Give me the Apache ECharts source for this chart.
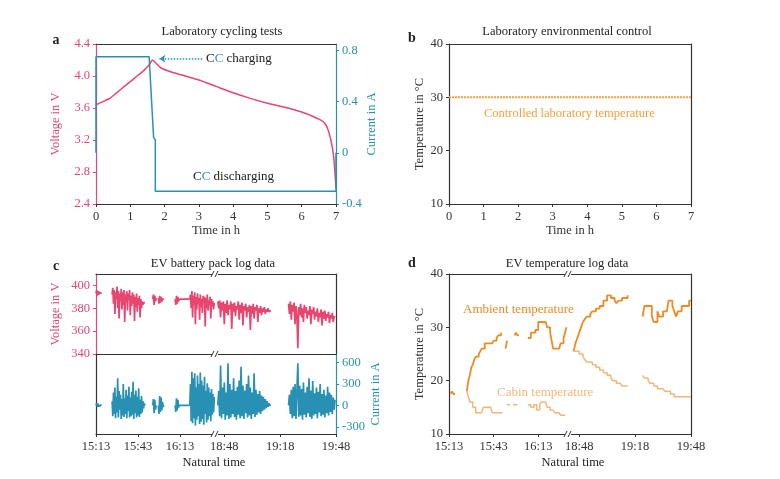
<!DOCTYPE html>
<html>
<head>
<meta charset="utf-8">
<script src="https://cdn.jsdelivr.net/npm/echarts@6/dist/echarts.min.js"></script>
<style>html,body{margin:0;background:#fff}#main{width:780px;height:479px}</style>
</head>
<body>
<div id="main"></div>
<script>
var FONT = 'Liberation Serif';
var PINK = '#e8456f', TEAL = '#2891b3', AMB = '#ef8a25', CAB = '#f6b676', LAB = '#f5a13a', INK = '#333';

// a - laboratory cycling test
var labTime = [0, 0.2, 0.4, 0.6, 0.8, 1.0, 1.2, 1.4, 1.55, 1.65, 1.75, 1.9, 2.2, 2.6, 3.0, 3.5, 4.0, 4.5, 5.0, 5.5, 6.0, 6.3, 6.5, 6.65, 6.75, 6.85, 6.93, 7.0];
var labVoltage = [3.64, 3.68, 3.72, 3.79, 3.86, 3.93, 4.0, 4.07, 4.14, 4.2, 4.16, 4.1, 4.05, 4.0, 3.95, 3.87, 3.79, 3.72, 3.66, 3.61, 3.55, 3.5, 3.46, 3.42, 3.35, 3.2, 3.0, 2.6];
var labCurTime = [0, 0, 1.55, 1.68, 1.73, 1.73, 7, 7];
var labCurrent = [0, 0.75, 0.75, 0.12, 0.1, -0.3, -0.3, 0];

// b - controlled temperature
var ctrlTime = [0, 7];
var ctrlTemp = [30, 30];

// c - EV pack log, bursts of samples
var burstStart = ['15:13', '15:24.5', '15:53.5', '15:57.5', '16:09.5', '16:12.5', '16:20', '18:44.5', '19:22.5'];
var burstStep = [0.5, 0.5, 0.5, 0.5, 0.5, 7.5, 0.5, 0.5, 0.5];
var packVoltage = [
  [393, 396, 391, 395, 392, 394, 393, 394, 393],
  [392, 398, 384, 396, 375, 394, 388, 399, 380, 395, 371, 393, 386, 397, 379, 394, 383, 396, 368, 392, 385, 395, 378, 393, 387, 396, 374, 391, 382, 394, 384, 392, 369, 390, 381, 393, 377, 389, 383, 391, 372, 388, 380, 386, 383, 385, 384, 385],
  [388, 392, 383, 391, 386, 389],
  [389, 384, 391, 385, 390, 386, 388, 387, 388],
  [388, 383, 391, 384, 390, 386, 388],
  [388, 388],
  [388, 392, 380, 395, 372, 391, 383, 394, 366, 390, 379, 393, 384, 389, 370, 392, 381, 388, 376, 391, 385, 390, 364, 389, 380, 392, 378, 387, 383, 390, 371, 388, 382, 386, 379, 385],
  [386, 380, 387, 372, 385, 378, 386, 366, 384, 376, 387, 374, 383, 379, 386, 362, 384, 377, 385, 373, 382, 379, 386, 370, 383, 376, 385, 365, 382, 378, 384, 372, 381, 377, 383, 361, 382, 375, 384, 371, 381, 378, 383, 368, 380, 376, 382, 374, 380, 377, 381, 375, 379, 377, 380, 377, 378, 378],
  [384, 375, 386, 370, 383, 377, 385, 366, 382, 374, 345, 381, 374, 384, 372, 380, 368, 383, 376, 381, 371, 378, 374, 382, 366, 379, 375, 381, 370, 377, 373, 380, 368, 376, 372, 379, 365, 377, 371, 378, 369, 375, 372, 377, 367, 374, 371, 376, 368, 373, 372]
];
var packCurrent = [
  [0, 30, -20, 25, -15, 10, 0, 5, 0],
  [60, -150, 180, -120, 250, -180, 120, -100, 380, -170, 200, -60, 150, -190, 90, -140, 300, -160, 100, -120, 220, -180, 140, -80, 260, -170, 110, -150, 190, -130, 330, -190, 150, -110, 210, -170, 120, -140, 240, -160, 80, -120, 130, -100, 60, -40, 30, 0],
  [0, 90, -110, 80, -60, 0],
  [0, -120, 130, -90, 110, -70, 50, -20, 0],
  [0, -90, 100, -70, 80, -30, 0],
  [0, 0],
  [0, 300, -220, 470, -250, 380, -180, 450, -280, 250, -200, 420, -150, 300, -260, 460, -230, 350, -190, 280, -270, 400, -120, 200, -240, 310, -200, 250, -150, 180, -220, 230, -130, 160, -100, 120],
  [0, 200, -150, 560, -180, 250, -120, 320, -200, 180, -140, 590, -190, 300, -170, 220, -120, 380, -160, 200, -200, 260, -130, 350, -180, 540, -150, 280, -190, 210, -110, 300, -170, 420, -140, 250, -190, 180, -120, 450, -160, 220, -130, 160, -100, 200, -120, 140, -80, 120, -60, 90, -40, 60, -20, 30, 0, 0],
  [0, 150, -120, 220, -180, 260, -150, 300, -190, 200, 590, -160, 280, -140, 230, -200, 320, -130, 180, -170, 260, -110, 380, -160, 210, -190, 340, -140, 170, -120, 250, -180, 190, -100, 300, -150, 160, -130, 220, -170, 140, -110, 260, -140, 180, -90, 150, -120, 110, -60, 80]
];

// d - EV temperature log
var ambientLeft = [['15:14', 17.5], ['15:15', 18], ['15:16', 17.5], ['15:17', 17.5], null,
  ['15:25', 18], ['15:26', 20], ['15:27', 21], ['15:28', 22.5], ['15:29', 23], ['15:30', 24], ['15:31', 24.5], ['15:33', 25], ['15:34', 25.5], ['15:35', 26], ['15:37', 27], ['15:42', 27], ['15:43', 27.5], ['15:45', 28], ['15:46', 28.5], ['15:48', 29], null,
  ['15:51', 26], ['15:52', 27.5], null,
  ['15:57', 28.5], ['15:58', 29], ['15:59', 28.5], ['16:00', 28.5], null,
  ['16:06', 28], ['16:08', 29], ['16:11', 29.5], ['16:13', 31], ['16:18', 31], ['16:19', 30], ['16:21', 29], ['16:22', 27.5], ['16:23', 26], ['16:27', 26], ['16:28', 27], ['16:30', 28], ['16:31', 29], ['16:32', 30]];
var ambientRight = [['18:45', 25.5], ['18:46', 27], ['18:47', 28], ['18:48', 29], ['18:49', 30], ['18:50', 31], ['18:51', 31.5], ['18:52', 32], ['18:54', 32.5], ['18:55', 33], ['18:57', 33.5], ['18:59', 34], ['19:01', 35], ['19:03', 36], ['19:05', 35.5], ['19:07', 35], ['19:08', 34.5], ['19:09', 35], ['19:11', 35.5], ['19:14', 36], null,
  ['19:22', 32], ['19:23', 34], ['19:25', 34], ['19:27', 32], ['19:28', 31], ['19:30', 33], ['19:31', 32], ['19:33', 33], ['19:35', 33], ['19:36', 35], ['19:38', 34], ['19:39', 33], ['19:40', 32], ['19:41', 33], ['19:43', 34], ['19:45', 34], ['19:47', 35], ['19:48', 35]];
var cabinLeft = [['15:25', 18], ['15:26', 17], ['15:27', 16], ['15:29', 15], ['15:31', 14], ['15:35', 14], ['15:36', 15], ['15:41', 15], ['15:42', 14], ['15:49', 14], null,
  ['15:52', 15.5], ['15:54', 15.5], null, ['15:56', 15.5], ['15:59', 15.5], null,
  ['16:06', 15.5], ['16:08', 15], ['16:10', 15.5], ['16:12', 14.5], ['16:14', 15.5], ['16:15', 16], ['16:18', 16], ['16:19', 15], ['16:21', 14.5], ['16:23', 14.5], ['16:24', 14], ['16:27', 14], ['16:28', 13.5], ['16:31', 13.5]];
var cabinRight = [['18:45', 25.5], ['18:48', 25], ['18:50', 24.5], ['18:51', 24], ['18:52', 23.5], ['18:55', 23], ['18:57', 22.5], ['18:59', 22], ['19:01', 21.5], ['19:03', 21], ['19:05', 20.5], ['19:06', 20], ['19:08', 19.5], ['19:10', 19.5], ['19:11', 19], ['19:14', 19], null,
  ['19:22', 21], ['19:23', 20.5], ['19:25', 20], ['19:26', 19.5], ['19:28', 19], ['19:30', 18.5], ['19:33', 18.5], ['19:34', 18], ['19:37', 17.5], ['19:39', 17], ['19:48', 17]];

var leftTicks = ['15:13', '15:43', '16:13'];
var rightTicks = ['18:48', '19:18', '19:48'];

function tm(s) { var p = s.split(':'); return +p[0] * 60 + parseFloat(p[1]); }
function hhmm(v) { var h = Math.floor(v / 60), m = Math.round(v - h * 60); return h + ':' + (m < 10 ? '0' : '') + m; }
function pairs(list) { return list.map(function (d) { return d ? [tm(d[0]), d[1]] : null; }); }

// join bursts of one side into one data list, null between bursts
function bursts(values, right) {
  var out = [];
  burstStart.forEach(function (s, i) {
    var t0 = tm(s);
    if ((t0 > 1100) !== right) return;
    values[i].forEach(function (v, k) { out.push([t0 + k * burstStep[i], v]); });
    out.push(null);
  });
  return out;
}

function ax(grid, pos, color, min, max, ticks, fmt, name, nameGap) {
  var show = !!ticks;
  return {
    type: 'value', gridIndex: grid, position: pos, min: min, max: max,
    splitLine: { show: false },
    axisLine: { show: true, onZero: false, lineStyle: { color: color, width: 1.2 } },
    axisTick: { show: show, length: 3, customValues: ticks || undefined, lineStyle: { color: color } },
    axisLabel: { show: show, customValues: ticks || undefined, formatter: fmt, fontFamily: FONT, fontSize: 12.5, color: color, margin: 6 },
    name: name || '', nameLocation: 'middle', nameGap: nameGap || 0,
    nameTextStyle: { fontFamily: FONT, fontSize: 12.5, color: color }
  };
}

function txt(x, y, text, opt) {
  opt = opt || {};
  var font = (opt.weight || 'normal') + ' ' + (opt.size || 12.5) + 'px "Liberation Serif"';
  return { type: 'text', x: x, y: y, z: 100, style: { text: text, font: font, fill: opt.color || '#222', align: opt.align || 'center', verticalAlign: 'middle', rich: opt.rich } };
}

function brk(x, y) {
  return [
    { type: 'rect', z: 100, shape: { x: x - 3, y: y - 2, width: 6, height: 4 }, style: { fill: '#fff' } },
    { type: 'line', z: 101, shape: { x1: x - 4, y1: y + 3, x2: x - 1, y2: y - 3 }, style: { stroke: INK, lineWidth: 1 } },
    { type: 'line', z: 101, shape: { x1: x, y1: y + 3, x2: x + 3, y2: y - 3 }, style: { stroke: INK, lineWidth: 1 } }
  ];
}

var hours = [0, 1, 2, 3, 4, 5, 6, 7];
var ccRich = {
  k: { fill: '#222', font: '13px "Liberation Serif"' },
  t: { fill: TEAL, font: '13px "Liberation Serif"' }
};
var fmtTime = function (v) { return hhmm(v); };
var lTick = leftTicks.map(tm), rTick = rightTicks.map(tm);

var myChart = echarts.init(document.getElementById('main'));
var option = {
  animation: false,
  grid: [
    { left: 96, top: 44, width: 240, height: 160 },
    { left: 449, top: 44, width: 242, height: 160 },
    { left: 96, top: 274, width: 119, height: 80 },
    { left: 215, top: 274, width: 121, height: 80 },
    { left: 96, top: 354, width: 119, height: 80 },
    { left: 215, top: 354, width: 121, height: 80 },
    { left: 449, top: 274, width: 119, height: 160 },
    { left: 568, top: 274, width: 123, height: 160 }
  ],
  xAxis: [
    ax(0, 'bottom', INK, 0, 7, hours, null, 'Time in h', 18),
    ax(0, 'top', INK, 0, 7),
    ax(1, 'bottom', INK, 0, 7, hours, null, 'Time in h', 18),
    ax(1, 'top', INK, 0, 7),
    ax(2, 'bottom', INK, 913, 998),
    ax(2, 'top', INK, 913, 998),
    ax(3, 'bottom', INK, 1123, 1188),
    ax(3, 'top', INK, 1123, 1188),
    ax(4, 'bottom', INK, 913, 998, lTick, fmtTime),
    ax(5, 'bottom', INK, 1123, 1188, rTick, fmtTime),
    ax(6, 'bottom', INK, 913, 993, lTick, fmtTime),
    ax(6, 'top', INK, 913, 993),
    ax(7, 'bottom', INK, 1122, 1188, rTick, fmtTime),
    ax(7, 'top', INK, 1122, 1188)
  ],
  yAxis: [
    ax(0, 'left', PINK, 2.4, 4.4, [2.4, 2.8, 3.2, 3.6, 4.0, 4.4], function (v) { return v.toFixed(1); }, 'Voltage in V', 34),
    ax(0, 'right', TEAL, -0.4, 0.85, [-0.4, 0, 0.4, 0.8], function (v) { return v === 0 ? '0' : v.toFixed(1); }, 'Current in A', 29),
    ax(1, 'left', INK, 10, 40, [10, 20, 30, 40], null, 'Temperature in °C', 22),
    ax(1, 'right', INK, 10, 40),
    ax(2, 'left', PINK, 340, 410, [340, 360, 380, 400], null, 'Voltage in V', 34),
    ax(3, 'right', INK, 340, 410),
    ax(4, 'left', INK, -400, 720),
    ax(5, 'right', TEAL, -400, 720, [-300, 0, 300, 600], null, 'Current in A', 32),
    ax(6, 'left', INK, 10, 40, [10, 20, 30, 40], null, 'Temperature in °C', 22),
    ax(7, 'right', INK, 10, 40)
  ],
  series: [
    {
      type: 'line', xAxisIndex: 0, yAxisIndex: 0, symbol: 'none', smooth: 0.2,
      lineStyle: { color: PINK, width: 1.5 },
      data: labTime.map(function (t, i) { return [t, labVoltage[i]]; })
    },
    {
      type: 'line', xAxisIndex: 0, yAxisIndex: 1, symbol: 'none',
      lineStyle: { color: TEAL, width: 1.5 },
      data: labCurTime.map(function (t, i) { return [t, labCurrent[i]]; }),
      markLine: {
        silent: true, symbol: ['none', 'arrow'], symbolSize: 6,
        lineStyle: { color: TEAL, type: 'dotted', width: 1.5 },
        label: { show: false },
        data: [[{ coord: [3.1, 0.735] }, { coord: [1.85, 0.735] }]]
      }
    },
    {
      type: 'line', xAxisIndex: 2, yAxisIndex: 2, symbol: 'none',
      lineStyle: { color: LAB, width: 2, type: [2, 1] },
      data: ctrlTime.map(function (t, i) { return [t, ctrlTemp[i]]; })
    },
    { type: 'line', xAxisIndex: 4, yAxisIndex: 4, symbol: 'none', lineStyle: { color: PINK, width: 1.7 }, data: bursts(packVoltage, false) },
    { type: 'line', xAxisIndex: 6, yAxisIndex: 5, symbol: 'none', lineStyle: { color: PINK, width: 1.7 }, data: bursts(packVoltage, true) },
    { type: 'line', xAxisIndex: 8, yAxisIndex: 6, symbol: 'none', lineStyle: { color: TEAL, width: 1.7 }, data: bursts(packCurrent, false) },
    { type: 'line', xAxisIndex: 9, yAxisIndex: 7, symbol: 'none', lineStyle: { color: TEAL, width: 1.7 }, data: bursts(packCurrent, true) },
    { type: 'line', xAxisIndex: 10, yAxisIndex: 8, symbol: 'none', step: 'end', lineStyle: { color: AMB, width: 1.8 }, data: pairs(ambientLeft) },
    { type: 'line', xAxisIndex: 12, yAxisIndex: 9, symbol: 'none', step: 'end', lineStyle: { color: AMB, width: 1.8 }, data: pairs(ambientRight) },
    { type: 'line', xAxisIndex: 10, yAxisIndex: 8, symbol: 'none', step: 'end', lineStyle: { color: CAB, width: 1.5 }, data: pairs(cabinLeft) },
    { type: 'line', xAxisIndex: 12, yAxisIndex: 9, symbol: 'none', step: 'end', lineStyle: { color: CAB, width: 1.5 }, data: pairs(cabinRight) }
  ],
  graphic: [
    txt(56, 40, 'a', { weight: 'bold', size: 14 }),
    txt(412, 38, 'b', { weight: 'bold', size: 14 }),
    txt(56, 266, 'c', { weight: 'bold', size: 14 }),
    txt(412, 263, 'd', { weight: 'bold', size: 14 }),
    txt(222, 32, 'Laboratory cycling tests'),
    txt(567, 32, 'Laboratory environmental control'),
    txt(213, 264, 'EV battery pack log data'),
    txt(567, 264, 'EV temperature log data'),
    txt(214, 463, 'Natural time'),
    txt(573, 463, 'Natural time'),
    txt(206, 59, '{k|C}{t|C}{k| charging}', { align: 'left', rich: ccRich }),
    txt(193, 177, '{k|C}{t|C}{k| discharging}', { align: 'left', rich: ccRich }),
    txt(484, 114, 'Controlled laboratory temperature', { align: 'left', color: LAB, size: 12.5 }),
    txt(463, 310, 'Ambient temperature', { align: 'left', color: AMB, size: 13 }),
    txt(497, 393, 'Cabin temperature', { align: 'left', color: CAB, size: 13 })
  ].concat(brk(215, 274), brk(215, 354), brk(215, 434), brk(568, 274), brk(568, 434))
};
myChart.setOption(option);
</script>
</body>
</html>
